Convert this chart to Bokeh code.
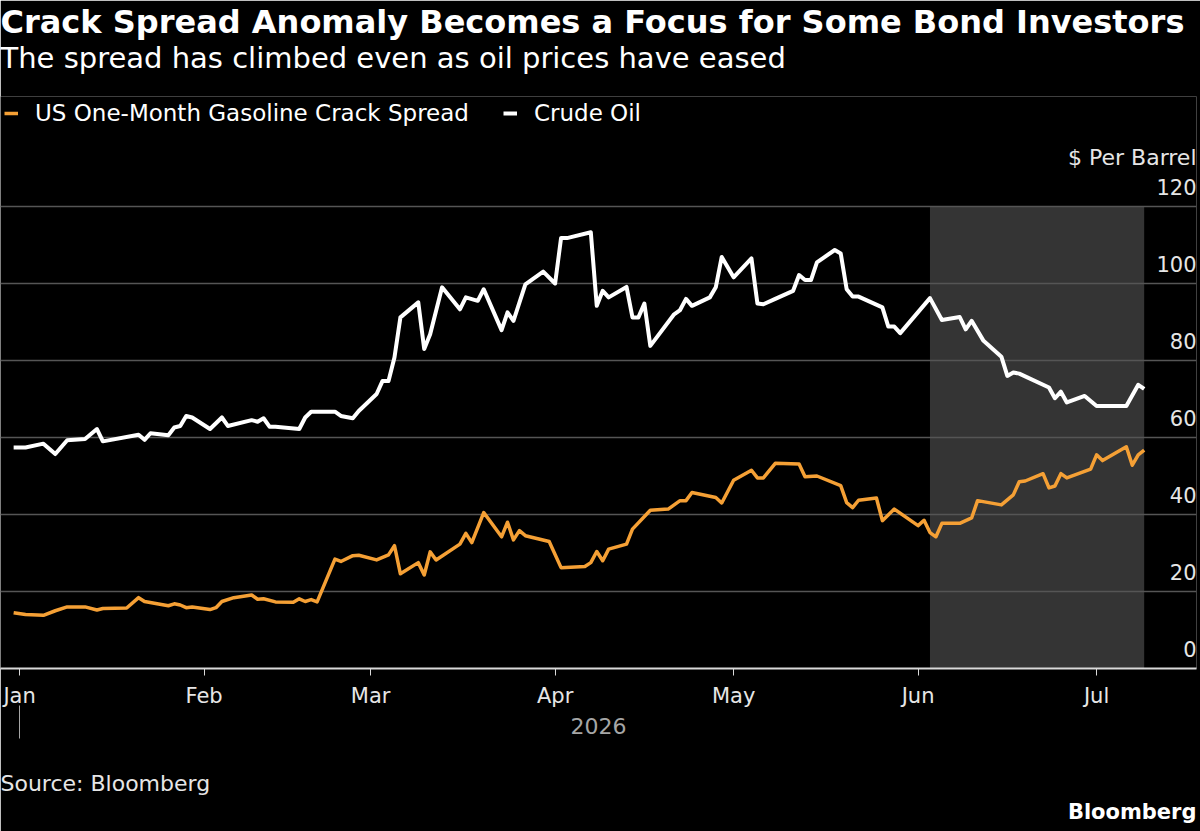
import pandas as pd
from bokeh.plotting import figure
from bokeh.models import (ColumnDataSource, BoxAnnotation, Grid, FixedTicker, Title,
                          DatetimeTickFormatter, DatetimeAxis, Range1d, Legend, LegendItem)
from bokeh.core.properties import value
from bokeh.embed import file_html
from bokeh.resources import INLINE

# ---------------- data ----------------
crude_dates = ["2025-12-31","2026-01-02","2026-01-05","2026-01-07","2026-01-09","2026-01-12","2026-01-14","2026-01-15","2026-01-21","2026-01-22","2026-01-23","2026-01-26","2026-01-27","2026-01-28","2026-01-29","2026-01-30",
               "2026-02-02","2026-02-04","2026-02-05","2026-02-09","2026-02-10","2026-02-11","2026-02-12","2026-02-13","2026-02-17","2026-02-18","2026-02-19","2026-02-23","2026-02-24","2026-02-26","2026-02-27",
               "2026-03-02","2026-03-03","2026-03-04","2026-03-05","2026-03-06","2026-03-09","2026-03-10","2026-03-11","2026-03-13","2026-03-16","2026-03-17","2026-03-19","2026-03-20","2026-03-23","2026-03-24","2026-03-25","2026-03-27","2026-03-30",
               "2026-04-01","2026-04-02","2026-04-03","2026-04-07","2026-04-08","2026-04-09","2026-04-10","2026-04-13","2026-04-14","2026-04-15","2026-04-16","2026-04-17","2026-04-21","2026-04-22","2026-04-23","2026-04-24","2026-04-27","2026-04-28","2026-04-29",
               "2026-05-01","2026-05-04","2026-05-05","2026-05-06","2026-05-08","2026-05-11","2026-05-12","2026-05-13","2026-05-14","2026-05-15","2026-05-18","2026-05-19","2026-05-20","2026-05-21","2026-05-22","2026-05-26","2026-05-27","2026-05-28","2026-05-29",
               "2026-06-03","2026-06-05","2026-06-08","2026-06-09","2026-06-10","2026-06-12","2026-06-15","2026-06-16","2026-06-17","2026-06-18","2026-06-23","2026-06-24","2026-06-25","2026-06-26","2026-06-29",
               "2026-07-01","2026-07-06","2026-07-08","2026-07-09"]
crude_values = [57.4,57.4,58.4,55.7,59.3,59.6,62.2,59.0,60.7,59.4,61.1,60.6,62.6,63.0,65.6,65.2,
                62.2,65.2,63.0,64.5,64.1,65.0,62.8,62.8,62.2,65.2,66.7,66.7,65.6,65.0,66.9,
                71.3,74.7,74.7,80.8,91.2,95.1,83.0,86.8,99.0,93.3,96.4,95.5,98.5,87.9,92.5,90.3,99.8,103.1,
                100.0,111.8,111.8,113.3,94.2,98.1,96.4,99.1,91.2,91.2,94.8,83.8,92.0,93.1,96.0,94.2,96.4,99.0,106.9,
                101.6,106.5,94.8,94.6,96.0,98.1,102.2,100.9,100.9,105.5,108.7,107.8,98.5,96.6,96.6,93.8,88.8,88.8,87.1,
                96.2,90.5,91.3,88.1,90.3,85.1,81.0,76.0,76.9,76.6,73.0,70.2,71.9,69.1,70.8,
                68.2,68.2,73.7,72.6]

spread_dates = ["2025-12-31","2026-01-02","2026-01-05","2026-01-07","2026-01-09","2026-01-12","2026-01-14","2026-01-15","2026-01-19","2026-01-21","2026-01-22","2026-01-26","2026-01-27","2026-01-28","2026-01-29","2026-01-30",
                "2026-02-02","2026-02-03","2026-02-04","2026-02-06","2026-02-09","2026-02-10","2026-02-11","2026-02-13","2026-02-16","2026-02-17","2026-02-18","2026-02-19","2026-02-20","2026-02-23","2026-02-24","2026-02-26","2026-02-27",
                "2026-03-02","2026-03-04","2026-03-05","2026-03-06","2026-03-09","2026-03-10","2026-03-11","2026-03-12","2026-03-16","2026-03-17","2026-03-18","2026-03-20","2026-03-23","2026-03-24","2026-03-25","2026-03-26","2026-03-27","2026-03-31",
                "2026-04-02","2026-04-06","2026-04-07","2026-04-08","2026-04-09","2026-04-10","2026-04-13","2026-04-14","2026-04-17","2026-04-20","2026-04-21","2026-04-22","2026-04-23","2026-04-24","2026-04-28","2026-04-29",
                "2026-05-01","2026-05-04","2026-05-05","2026-05-06","2026-05-08","2026-05-12","2026-05-13","2026-05-15","2026-05-19","2026-05-20","2026-05-21","2026-05-22","2026-05-25","2026-05-26","2026-05-28",
                "2026-06-01","2026-06-02","2026-06-03","2026-06-04","2026-06-05","2026-06-08","2026-06-10","2026-06-11","2026-06-15","2026-06-17","2026-06-18","2026-06-19","2026-06-22","2026-06-23","2026-06-24","2026-06-25","2026-06-26","2026-06-30",
                "2026-07-01","2026-07-02","2026-07-06","2026-07-07","2026-07-08","2026-07-09"]
spread_values = [14.5,14.0,13.8,15.0,16.0,16.0,15.2,15.6,15.7,18.4,17.4,16.3,16.8,16.5,15.8,16.0,
                 15.3,15.8,17.4,18.4,19.1,18.0,18.1,17.3,17.2,18.1,17.4,17.9,17.3,28.4,27.8,29.3,29.4,
                 28.2,29.5,31.9,24.6,27.5,24.3,30.3,28.2,32.3,35.1,32.7,40.5,34.2,38.0,33.4,35.8,34.5,33.0,
                 26.2,26.5,27.5,30.4,28.0,31.0,32.3,36.2,41.1,41.4,42.5,43.6,43.6,45.7,44.4,43.0,
                 48.9,51.5,49.5,49.5,53.3,53.1,49.8,50.0,47.5,43.1,41.8,43.7,44.3,38.4,41.4,
                 37.1,38.5,35.3,34.2,37.7,37.7,39.1,43.6,42.5,45.1,48.5,48.7,50.6,46.9,47.4,50.6,49.5,51.8,
                 55.5,54.0,57.6,52.8,55.5,56.7]

shade_start = "2026-06-03"
shade_end = "2026-07-09"
y_ticks = [0, 20, 40, 60, 80, 100, 120]
month_ticks = ["2026-01-01","2026-02-01","2026-03-01","2026-04-01","2026-05-01","2026-06-01","2026-07-01"]
year_tick = "2026-01-01"
x_start = "2025-12-28 19:00"
x_end = "2026-07-17 19:00"

ORANGE = "#f5a035"
FONT = "DejaVu Sans"

# layout: frame spans canvas rows FRAME_TOP..FRAME_BOTTOM, with 120 drawn at row 206
FRAME_TOP, FRAME_BOTTOM, ROW_120 = 96, 668, 206
y_top = y_ticks[-1] * (FRAME_BOTTOM - FRAME_TOP) / (FRAME_BOTTOM - ROW_120)

def ms(d):
    return pd.Timestamp(d).timestamp() * 1000.0

# ---------------- figure ----------------
p = figure(width=1200, height=831, output_backend="svg", toolbar_location=None,
           x_axis_type="datetime", y_axis_location=None, title_location=None,
           x_range=Range1d(ms(x_start), ms(x_end)), y_range=Range1d(0, y_top),
           min_border_left=0, min_border_right=4, min_border_top=FRAME_TOP,
           min_border_bottom=831 - FRAME_BOTTOM)
p.background_fill_color = "black"
p.border_fill_color = "black"
p.outline_line_color = None
p.xgrid.visible = False
p.ygrid.visible = False

shade = BoxAnnotation(left=ms(shade_start), right=ms(shade_end), bottom=0, top=y_ticks[-1],
                      fill_color="#343434", fill_alpha=1.0, line_alpha=0, level="underlay")
p.add_layout(shade)

grid = Grid(dimension=1, ticker=FixedTicker(ticks=y_ticks[1:]), grid_line_color="#555555",
            grid_line_width=1.5, level="underlay")
p.add_layout(grid)

crude_src = ColumnDataSource(dict(x=pd.to_datetime(crude_dates), y=crude_values))
spread_src = ColumnDataSource(dict(x=pd.to_datetime(spread_dates), y=spread_values))
r_spread = p.line("x", "y", source=spread_src, line_color=ORANGE, line_width=3.5, line_join="round")
r_crude = p.line("x", "y", source=crude_src, line_color="white", line_width=4, line_join="round")

# y tick labels above gridlines, right aligned
ylab_src = ColumnDataSource(dict(x=[ms(x_end)] * len(y_ticks), y=y_ticks, t=[str(v) for v in y_ticks]))
p.text("x", "y", text="t", source=ylab_src, text_align="right", text_baseline="middle",
       y_offset=-20, text_font=value(FONT), text_font_size="21px", text_color="#e6e6e6")
unit_src = ColumnDataSource(dict(x=[ms(x_end)], y=[y_ticks[-1]], t=["$ Per Barrel"]))
p.text("x", "y", text="t", source=unit_src, text_align="right", text_baseline="middle",
       y_offset=-49, text_font=value(FONT), text_font_size="22px", text_color="#e6e6e6")

# legend (top-left of frame)
legend = Legend(items=[LegendItem(label="US One-Month Gasoline Crack Spread", renderers=[r_spread]),
                       LegendItem(label="Crude Oil", renderers=[r_crude])],
                orientation="horizontal", location="top_left", margin=0, padding=4, spacing=34,
                glyph_width=14, glyph_height=20, label_standoff=17,
                label_text_font=FONT, label_text_font_size="23px", label_text_color="white",
                background_fill_alpha=0, border_line_alpha=0)
p.add_layout(legend)

# x axis (months)
ax = p.xaxis[0]
ax.ticker = FixedTicker(ticks=[ms(m) for m in month_ticks])
ax.formatter = DatetimeTickFormatter(years="%b", months="%b", days="%b", hours="%b")
ax.axis_line_color = "#d9d9d9"
ax.axis_line_width = 2
ax.major_tick_line_color = "#d9d9d9"
ax.major_tick_line_width = 1
ax.major_tick_in = 0
ax.major_tick_out = 7
ax.minor_tick_out = 0
ax.minor_tick_in = 0
ax.major_label_standoff = 8
ax.major_label_text_font = FONT
ax.major_label_text_font_size = "21px"
ax.major_label_text_color = "#e6e6e6"

# second axis: long year marker (as a minor tick, no label) + year label
ax2 = DatetimeAxis(ticker=FixedTicker(ticks=[], minor_ticks=[ms(year_tick)]), axis_line_color=None,
                   major_tick_in=0, major_tick_out=0, minor_tick_in=5, minor_tick_out=28,
                   minor_tick_line_color="#a6a6a6", minor_tick_line_width=1,
                   major_label_standoff=0,
                   axis_label="2026", axis_label_standoff=-21,
                   axis_label_text_font=FONT, axis_label_text_font_size="22px",
                   axis_label_text_font_style="normal", axis_label_text_color="#a6a6a6")
p.add_layout(ax2, "below")

# spacer before the source line (an invisible tick only)
spacer = DatetimeAxis(ticker=FixedTicker(ticks=[], minor_ticks=[ms(year_tick)]), axis_line_color=None,
                      major_tick_in=0, major_tick_out=0, minor_tick_in=0, minor_tick_out=31,
                      minor_tick_line_color=None, major_label_standoff=0)
p.add_layout(spacer, "below")

p.add_layout(Title(text="Source: Bloomberg", align="left", text_font=FONT, text_font_size="22px",
                   text_font_style="normal", text_color="#e6e6e6", standoff=2), "below")
p.add_layout(Title(text="Bloomberg", align="right", text_font=FONT, text_font_size="21px",
                   text_font_style="bold", text_color="white", standoff=3), "below")

# above: spacer (nearest frame), subtitle, title
spacer_top = DatetimeAxis(ticker=FixedTicker(ticks=[], minor_ticks=[ms(year_tick)]), axis_line_color=None,
                          major_tick_in=0, major_tick_out=0, minor_tick_in=0, minor_tick_out=20,
                          minor_tick_line_color=None, major_label_standoff=0)
p.add_layout(spacer_top, "above")
p.add_layout(Title(text="The spread has climbed even as oil prices have eased", align="left",
                   vertical_align="top", text_font=FONT, text_font_size="29px",
                   text_font_style="normal", text_color="white", standoff=0), "above")
p.add_layout(Title(text="Crack Spread Anomaly Becomes a Focus for Some Bond Investors", align="left",
                   text_font=FONT, text_font_size="32px", text_font_style="bold",
                   text_color="white", standoff=0), "above")

open("out.html", "w").write(file_html(p, INLINE))
